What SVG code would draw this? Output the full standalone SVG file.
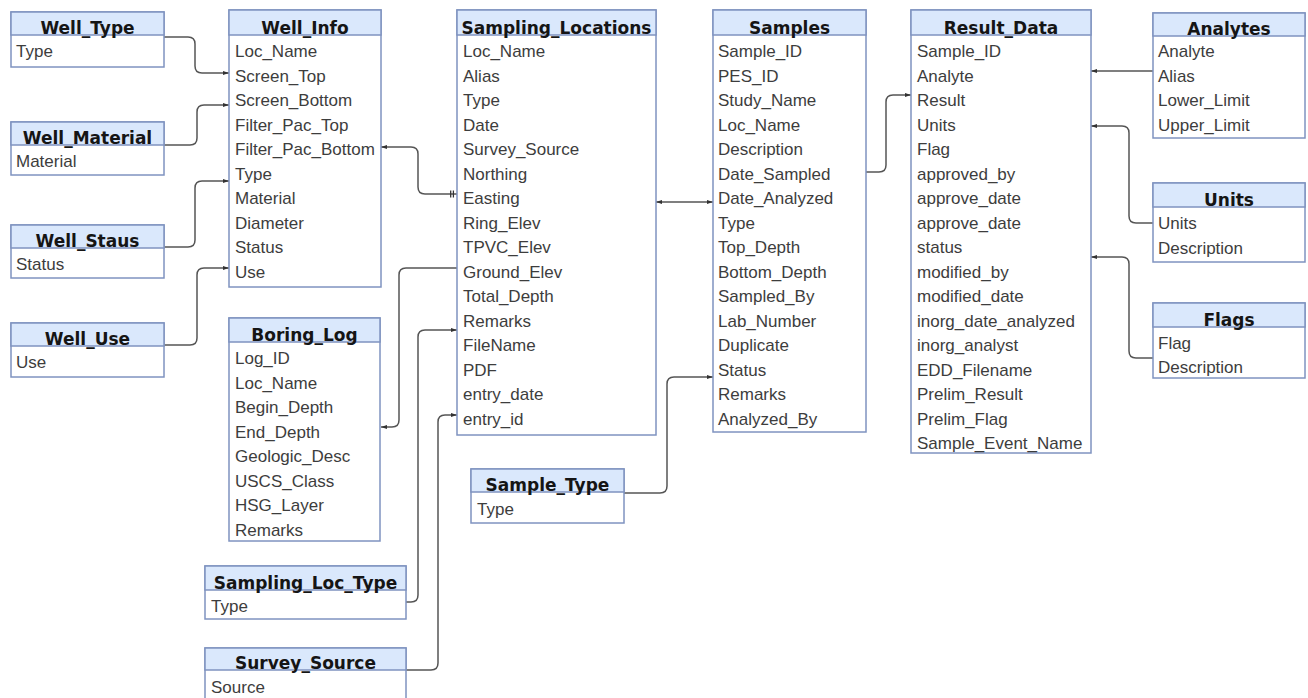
<svg xmlns="http://www.w3.org/2000/svg" width="1308" height="698" viewBox="0 0 1308 698">
<defs>
<style>
.box{fill:#ffffff;stroke:#7f93c0;stroke-width:1.5}
.hd{fill:#dae8fc;stroke:#7f93c0;stroke-width:1.5}
.ht{font-family:"DejaVu Sans",Verdana,sans-serif;font-weight:bold;font-size:17px;fill:#151515;text-anchor:middle}
.ft{font-family:"Liberation Sans",Arial,sans-serif;font-size:17px;fill:#3d3d3d}
.cn{fill:none;stroke:#555555;stroke-width:1.5}
</style>
<marker id="arr" viewBox="0 0 10 10" refX="10" refY="5" markerWidth="6" markerHeight="6" markerUnits="userSpaceOnUse" orient="auto-start-reverse">
<path d="M0,1.5 L10,5 L0,8.5 Z" fill="#333333"/>
</marker>
<marker id="bars" viewBox="0 0 10 10" refX="10" refY="5" markerWidth="9" markerHeight="9" markerUnits="userSpaceOnUse" orient="auto">
<path d="M3,1 V9 M6,1 V9" stroke="#333333" stroke-width="1.4" fill="none"/>
</marker>
</defs>
<rect width="1308" height="698" fill="#ffffff"/>

<g id="connectors">
<path class="cn" d="M164,37 H188 Q195,37 195,44 V66 Q195,73 202,73 H229" marker-end="url(#arr)"/>
<path class="cn" d="M164,145 H190 Q197,145 197,138 V112 Q197,105 204,105 H229" marker-end="url(#arr)"/>
<path class="cn" d="M164,247 H188 Q195,247 195,240 V188 Q195,181 202,181 H229" marker-end="url(#arr)"/>
<path class="cn" d="M164,345 H190 Q197,345 197,338 V275 Q197,268 204,268 H229" marker-end="url(#arr)"/>
<path class="cn" d="M381,147 H411 Q418,147 418,154 V187 Q418,194 425,194 H457" marker-start="url(#arr)" marker-end="url(#bars)"/>
<path class="cn" d="M457,268 H406 Q399,268 399,275 V420 Q399,427 392,427 H381" marker-end="url(#arr)"/>
<path class="cn" d="M406,602 H411 Q418,602 418,595 V337 Q418,330 425,330 H457" marker-end="url(#arr)"/>
<path class="cn" d="M406,670 H431 Q438,670 438,663 V422 Q438,415 445,415 H457" marker-end="url(#arr)"/>
<path class="cn" d="M656,202 H713" marker-start="url(#arr)" marker-end="url(#arr)"/>
<path class="cn" d="M624,493 H660 Q667,493 667,486 V384 Q667,377 674,377 H713" marker-end="url(#arr)"/>
<path class="cn" d="M866,172 H879 Q886,172 886,165 V102 Q886,95 893,95 H911" marker-end="url(#arr)"/>
<path class="cn" d="M1153,71 H1091" marker-end="url(#arr)"/>
<path class="cn" d="M1153,223 H1136 Q1129,223 1129,216 V133 Q1129,126 1122,126 H1091" marker-end="url(#arr)"/>
<path class="cn" d="M1153,358 H1136 Q1129,358 1129,351 V264 Q1129,257 1122,257 H1091" marker-end="url(#arr)"/>
</g>

<g id="Well_Type">
<rect class="box" x="11" y="12" width="153" height="55"/>
<rect class="hd" x="11" y="12" width="153" height="23"/>
<text class="ht" x="87.5" y="34">Well_Type</text>
<text class="ft" x="16" y="57">Type</text>
</g>

<g id="Well_Material">
<rect class="box" x="11" y="122" width="153" height="53"/>
<rect class="hd" x="11" y="122" width="153" height="23"/>
<text class="ht" x="87.5" y="144">Well_Material</text>
<text class="ft" x="16" y="167">Material</text>
</g>

<g id="Well_Staus">
<rect class="box" x="11" y="225" width="153" height="53"/>
<rect class="hd" x="11" y="225" width="153" height="23"/>
<text class="ht" x="87.5" y="247">Well_Staus</text>
<text class="ft" x="16" y="270">Status</text>
</g>

<g id="Well_Use">
<rect class="box" x="11" y="323" width="153" height="54"/>
<rect class="hd" x="11" y="323" width="153" height="23"/>
<text class="ht" x="87.5" y="345">Well_Use</text>
<text class="ft" x="16" y="368">Use</text>
</g>

<g id="Well_Info">
<rect class="box" x="229" y="10" width="152" height="277"/>
<rect class="hd" x="229" y="10" width="152" height="25"/>
<text class="ht" x="305" y="34">Well_Info</text>
<text class="ft" x="235" y="57">Loc_Name</text>
<text class="ft" x="235" y="81.5">Screen_Top</text>
<text class="ft" x="235" y="106">Screen_Bottom</text>
<text class="ft" x="235" y="130.5">Filter_Pac_Top</text>
<text class="ft" x="235" y="155">Filter_Pac_Bottom</text>
<text class="ft" x="235" y="179.5">Type</text>
<text class="ft" x="235" y="204">Material</text>
<text class="ft" x="235" y="228.5">Diameter</text>
<text class="ft" x="235" y="253">Status</text>
<text class="ft" x="235" y="277.5">Use</text>
</g>

<g id="Boring_Log">
<rect class="box" x="229" y="318" width="151" height="223"/>
<rect class="hd" x="229" y="318" width="151" height="24"/>
<text class="ht" x="304.5" y="341">Boring_Log</text>
<text class="ft" x="235" y="364">Log_ID</text>
<text class="ft" x="235" y="388.5">Loc_Name</text>
<text class="ft" x="235" y="413">Begin_Depth</text>
<text class="ft" x="235" y="437.5">End_Depth</text>
<text class="ft" x="235" y="462">Geologic_Desc</text>
<text class="ft" x="235" y="486.5">USCS_Class</text>
<text class="ft" x="235" y="511">HSG_Layer</text>
<text class="ft" x="235" y="535.5">Remarks</text>
</g>

<g id="Sampling_Loc_Type">
<rect class="box" x="205" y="566" width="201" height="53"/>
<rect class="hd" x="205" y="566" width="201" height="24"/>
<text class="ht" x="305.5" y="589">Sampling_Loc_Type</text>
<text class="ft" x="211" y="612">Type</text>
</g>

<g id="Survey_Source">
<rect class="box" x="205" y="648" width="201" height="54"/>
<rect class="hd" x="205" y="648" width="201" height="22"/>
<text class="ht" x="305.5" y="669">Survey_Source</text>
<text class="ft" x="211" y="693">Source</text>
</g>

<g id="Sampling_Locations">
<rect class="box" x="457" y="10" width="199" height="425"/>
<rect class="hd" x="457" y="10" width="199" height="25"/>
<text class="ht" x="556.5" y="34">Sampling_Locations</text>
<text class="ft" x="463" y="57">Loc_Name</text>
<text class="ft" x="463" y="81.5">Alias</text>
<text class="ft" x="463" y="106">Type</text>
<text class="ft" x="463" y="130.5">Date</text>
<text class="ft" x="463" y="155">Survey_Source</text>
<text class="ft" x="463" y="179.5">Northing</text>
<text class="ft" x="463" y="204">Easting</text>
<text class="ft" x="463" y="228.5">Ring_Elev</text>
<text class="ft" x="463" y="253">TPVC_Elev</text>
<text class="ft" x="463" y="277.5">Ground_Elev</text>
<text class="ft" x="463" y="302">Total_Depth</text>
<text class="ft" x="463" y="326.5">Remarks</text>
<text class="ft" x="463" y="351">FileName</text>
<text class="ft" x="463" y="375.5">PDF</text>
<text class="ft" x="463" y="400">entry_date</text>
<text class="ft" x="463" y="424.5">entry_id</text>
</g>

<g id="Sample_Type">
<rect class="box" x="471" y="469" width="153" height="54"/>
<rect class="hd" x="471" y="469" width="153" height="23"/>
<text class="ht" x="547.5" y="491">Sample_Type</text>
<text class="ft" x="477" y="515">Type</text>
</g>

<g id="Samples">
<rect class="box" x="713" y="10" width="153" height="422"/>
<rect class="hd" x="713" y="10" width="153" height="25"/>
<text class="ht" x="789.5" y="34">Samples</text>
<text class="ft" x="718" y="57">Sample_ID</text>
<text class="ft" x="718" y="81.5">PES_ID</text>
<text class="ft" x="718" y="106">Study_Name</text>
<text class="ft" x="718" y="130.5">Loc_Name</text>
<text class="ft" x="718" y="155">Description</text>
<text class="ft" x="718" y="179.5">Date_Sampled</text>
<text class="ft" x="718" y="204">Date_Analyzed</text>
<text class="ft" x="718" y="228.5">Type</text>
<text class="ft" x="718" y="253">Top_Depth</text>
<text class="ft" x="718" y="277.5">Bottom_Depth</text>
<text class="ft" x="718" y="302">Sampled_By</text>
<text class="ft" x="718" y="326.5">Lab_Number</text>
<text class="ft" x="718" y="351">Duplicate</text>
<text class="ft" x="718" y="375.5">Status</text>
<text class="ft" x="718" y="400">Remarks</text>
<text class="ft" x="718" y="424.5">Analyzed_By</text>
</g>

<g id="Result_Data">
<rect class="box" x="911" y="10" width="180" height="443"/>
<rect class="hd" x="911" y="10" width="180" height="25"/>
<text class="ht" x="1001" y="34">Result_Data</text>
<text class="ft" x="917" y="57">Sample_ID</text>
<text class="ft" x="917" y="81.5">Analyte</text>
<text class="ft" x="917" y="106">Result</text>
<text class="ft" x="917" y="130.5">Units</text>
<text class="ft" x="917" y="155">Flag</text>
<text class="ft" x="917" y="179.5">approved_by</text>
<text class="ft" x="917" y="204">approve_date</text>
<text class="ft" x="917" y="228.5">approve_date</text>
<text class="ft" x="917" y="253">status</text>
<text class="ft" x="917" y="277.5">modified_by</text>
<text class="ft" x="917" y="302">modified_date</text>
<text class="ft" x="917" y="326.5">inorg_date_analyzed</text>
<text class="ft" x="917" y="351">inorg_analyst</text>
<text class="ft" x="917" y="375.5">EDD_Filename</text>
<text class="ft" x="917" y="400">Prelim_Result</text>
<text class="ft" x="917" y="424.5">Prelim_Flag</text>
<text class="ft" x="917" y="449">Sample_Event_Name</text>
</g>

<g id="Analytes">
<rect class="box" x="1153" y="13" width="152" height="125"/>
<rect class="hd" x="1153" y="13" width="152" height="23"/>
<text class="ht" x="1229" y="35">Analytes</text>
<text class="ft" x="1158" y="57">Analyte</text>
<text class="ft" x="1158" y="81.5">Alias</text>
<text class="ft" x="1158" y="106">Lower_Limit</text>
<text class="ft" x="1158" y="130.5">Upper_Limit</text>
</g>

<g id="Units">
<rect class="box" x="1153" y="183" width="152" height="79"/>
<rect class="hd" x="1153" y="183" width="152" height="24"/>
<text class="ht" x="1229" y="206">Units</text>
<text class="ft" x="1158" y="229">Units</text>
<text class="ft" x="1158" y="254">Description</text>
</g>

<g id="Flags">
<rect class="box" x="1153" y="303" width="152" height="75"/>
<rect class="hd" x="1153" y="303" width="152" height="24"/>
<text class="ht" x="1229" y="326">Flags</text>
<text class="ft" x="1158" y="349">Flag</text>
<text class="ft" x="1158" y="373">Description</text>
</g>
</svg>
